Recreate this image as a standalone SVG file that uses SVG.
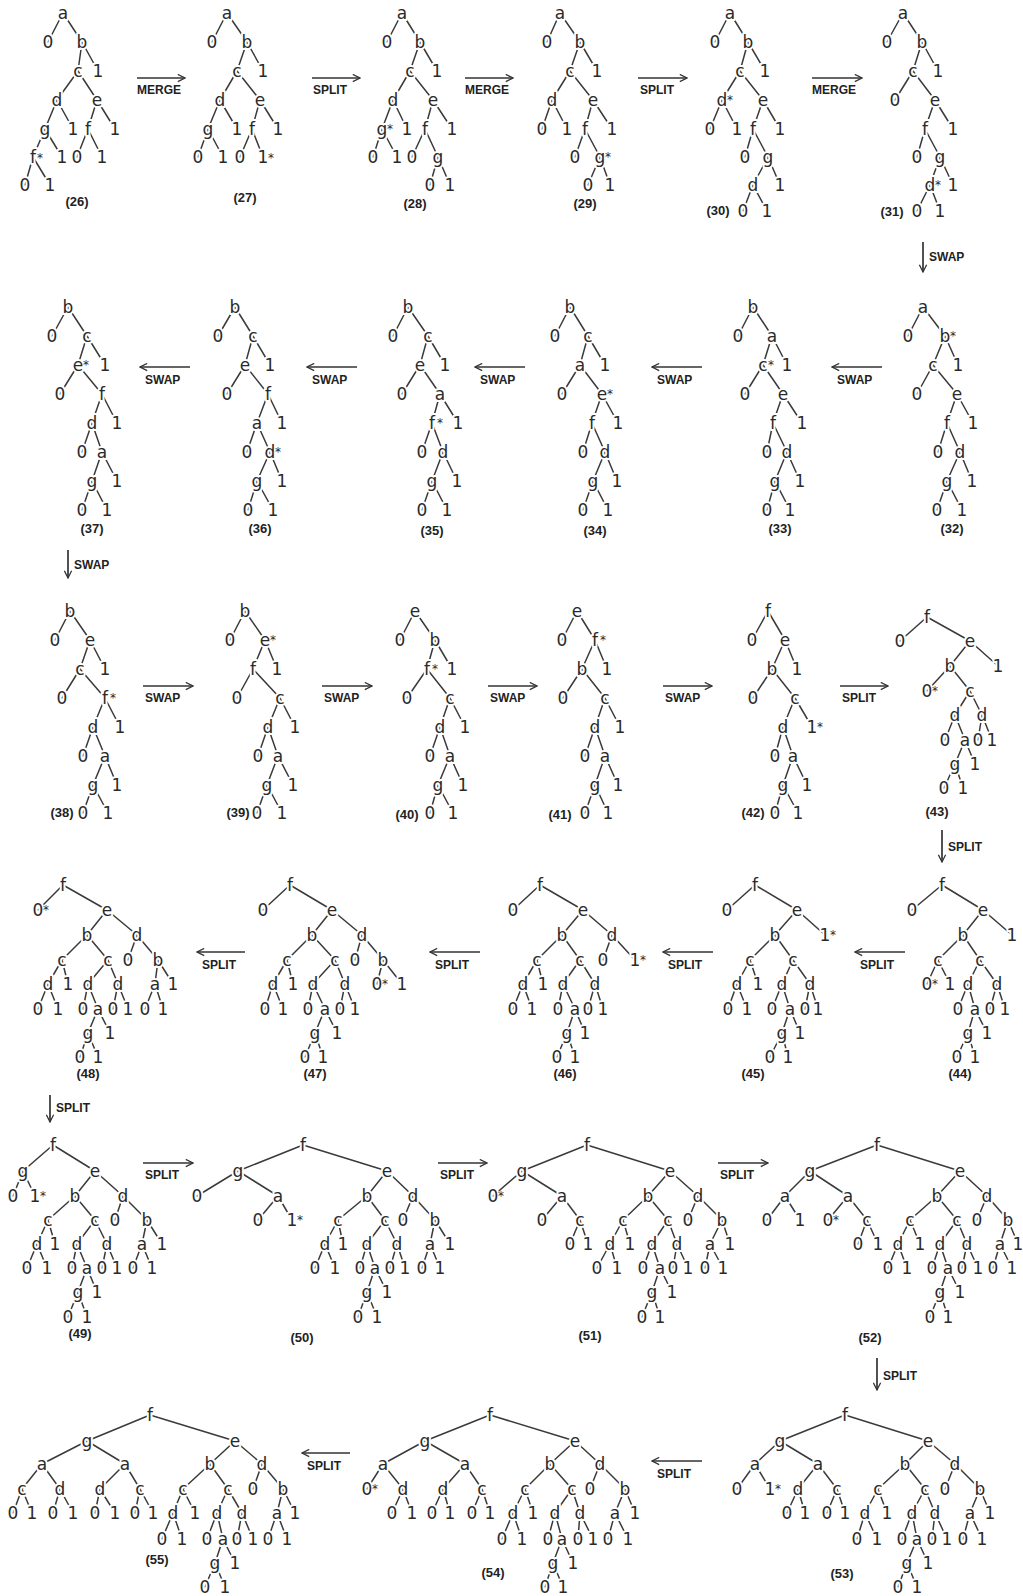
<svg xmlns="http://www.w3.org/2000/svg" width="1023" height="1596" viewBox="0 0 1023 1596">
<style>
.t text{font-family:"DejaVu Sans",Verdana,sans-serif;font-size:17px;fill:#2a2a2a;text-anchor:middle;stroke:#fff;stroke-width:4px;paint-order:stroke;stroke-linejoin:round}
.t text.s{font-size:12px;text-anchor:start;stroke:none}
.t text.n{font-family:"Liberation Sans",Arial,sans-serif;font-weight:bold;font-size:13px;stroke:none;fill:#222}
.e{fill:none;stroke:#3a3a3a;stroke-width:1.5;stroke-linecap:round}
.c line{stroke:#333;stroke-width:1.7;marker-end:url(#ah)}
.c text{font-family:"Liberation Sans",Arial,sans-serif;font-weight:bold;font-size:12px;fill:#222}
</style>
<defs>
<marker id="ah" viewBox="0 0 10 10" refX="9" refY="5" markerWidth="9" markerHeight="9" markerUnits="userSpaceOnUse" orient="auto"><path d="M1 1L9 5L1 9" fill="none" stroke="#333" stroke-width="1.4"/></marker>
</defs>
<rect width="1023" height="1596" fill="#fff"/>

<g id="tree26" class="t">
<path class="e" d="M63 13L48 42M63 13L82 42M82 42L78 71M82 42L98 71M78 71L57 100M78 71L97 100M57 100L45 129M57 100L73 129M97 100L88 129M97 100L115 129M45 129L33 157M45 129L62 157M88 129L77 157M88 129L102 157M33 157L25 185M33 157L50 185"/>
<text x="63" y="19">a</text><text x="48" y="48">0</text><text x="82" y="48">b</text><text x="78" y="77">c</text><text x="98" y="77">1</text><text x="57" y="106">d</text><text x="97" y="106">e</text><text x="45" y="135">g</text><text x="73" y="135">1</text><text x="88" y="135">f</text><text x="115" y="135">1</text><text x="33" y="163">f</text><text class="s" x="37" y="162">*</text><text x="62" y="163">1</text><text x="77" y="163">0</text><text x="102" y="163">1</text><text x="25" y="191">0</text><text x="50" y="191">1</text>
<text class="n" x="77" y="206">(26)</text>
</g>

<g id="tree27" class="t">
<path class="e" d="M227 13L212 42M227 13L247 42M247 42L237 71M247 42L263 71M237 71L220 100M237 71L260 100M220 100L208 129M220 100L237 129M260 100L252 129M260 100L278 129M208 129L198 157M208 129L223 157M252 129L240 157M252 129L263 157"/>
<text x="227" y="19">a</text><text x="212" y="48">0</text><text x="247" y="48">b</text><text x="237" y="77">c</text><text x="263" y="77">1</text><text x="220" y="106">d</text><text x="260" y="106">e</text><text x="208" y="135">g</text><text x="237" y="135">1</text><text x="252" y="135">f</text><text x="278" y="135">1</text><text x="198" y="163">0</text><text x="223" y="163">1</text><text x="240" y="163">0</text><text x="263" y="163">1</text><text class="s" x="268" y="162">*</text>
<text class="n" x="245" y="202">(27)</text>
</g>

<g id="tree28" class="t">
<path class="e" d="M402 13L387 42M402 13L420 42M420 42L410 71M420 42L437 71M410 71L393 100M410 71L433 100M393 100L382 129M393 100L407 129M433 100L425 129M433 100L452 129M382 129L373 157M382 129L397 157M425 129L412 157M425 129L438 157M438 157L430 185M438 157L450 185"/>
<text x="402" y="19">a</text><text x="387" y="48">0</text><text x="420" y="48">b</text><text x="410" y="77">c</text><text x="437" y="77">1</text><text x="393" y="106">d</text><text x="433" y="106">e</text><text x="382" y="135">g</text><text class="s" x="387" y="133">*</text><text x="407" y="135">1</text><text x="425" y="135">f</text><text x="452" y="135">1</text><text x="373" y="163">0</text><text x="397" y="163">1</text><text x="412" y="163">0</text><text x="438" y="163">g</text><text x="430" y="191">0</text><text x="450" y="191">1</text>
<text class="n" x="415" y="208">(28)</text>
</g>

<g id="tree29" class="t">
<path class="e" d="M560 13L547 42M560 13L580 42M580 42L570 71M580 42L597 71M570 71L552 100M570 71L593 100M552 100L542 129M552 100L567 129M593 100L585 129M593 100L612 129M585 129L575 157M585 129L600 157M600 157L588 185M600 157L610 185"/>
<text x="560" y="19">a</text><text x="547" y="48">0</text><text x="580" y="48">b</text><text x="570" y="77">c</text><text x="597" y="77">1</text><text x="552" y="106">d</text><text x="593" y="106">e</text><text x="542" y="135">0</text><text x="567" y="135">1</text><text x="585" y="135">f</text><text x="612" y="135">1</text><text x="575" y="163">0</text><text x="600" y="163">g</text><text class="s" x="605" y="161">*</text><text x="588" y="191">0</text><text x="610" y="191">1</text>
<text class="n" x="585" y="208">(29)</text>
</g>

<g id="tree30" class="t">
<path class="e" d="M730 13L715 42M730 13L748 42M748 42L740 71M748 42L765 71M740 71L722 100M740 71L763 100M722 100L710 129M722 100L737 129M763 100L753 129M763 100L780 129M753 129L745 157M753 129L768 157M768 157L753 185M768 157L780 185M753 185L743 211M753 185L767 211"/>
<text x="730" y="19">a</text><text x="715" y="48">0</text><text x="748" y="48">b</text><text x="740" y="77">c</text><text x="765" y="77">1</text><text x="722" y="106">d</text><text class="s" x="727" y="104">*</text><text x="763" y="106">e</text><text x="710" y="135">0</text><text x="737" y="135">1</text><text x="753" y="135">f</text><text x="780" y="135">1</text><text x="745" y="163">0</text><text x="768" y="163">g</text><text x="753" y="191">d</text><text x="780" y="191">1</text><text x="743" y="217">0</text><text x="767" y="217">1</text>
<text class="n" x="718" y="215">(30)</text>
</g>

<g id="tree31" class="t">
<path class="e" d="M903 13L887 42M903 13L922 42M922 42L913 71M922 42L938 71M913 71L895 100M913 71L935 100M935 100L925 129M935 100L953 129M925 129L917 157M925 129L940 157M940 157L930 185M940 157L953 185M930 185L917 211M930 185L940 211"/>
<text x="903" y="19">a</text><text x="887" y="48">0</text><text x="922" y="48">b</text><text x="913" y="77">c</text><text x="938" y="77">1</text><text x="895" y="106">0</text><text x="935" y="106">e</text><text x="925" y="135">f</text><text x="953" y="135">1</text><text x="917" y="163">0</text><text x="940" y="163">g</text><text x="930" y="191">d</text><text class="s" x="935" y="189">*</text><text x="953" y="191">1</text><text x="917" y="217">0</text><text x="940" y="217">1</text>
<text class="n" x="892" y="216">(31)</text>
</g>

<g id="tree37" class="t" transform="translate(0,-15)">
<path class="e" d="M68 322L52 351M68 322L87 351M87 351L78 380M87 351L105 380M78 380L60 409M78 380L102 409M102 409L92 438M102 409L117 438M92 438L82 467M92 438L102 467M102 467L92 496M102 467L117 496M92 496L82 525M92 496L107 525"/>
<text x="68" y="328">b</text><text x="52" y="357">0</text><text x="87" y="357">c</text><text x="78" y="386">e</text><text class="s" x="83" y="384">*</text><text x="105" y="386">1</text><text x="60" y="415">0</text><text x="102" y="415">f</text><text x="92" y="444">d</text><text x="117" y="444">1</text><text x="82" y="473">0</text><text x="102" y="473">a</text><text x="92" y="502">g</text><text x="117" y="502">1</text><text x="82" y="531">0</text><text x="107" y="531">1</text>
<text class="n" x="92" y="548">(37)</text>
</g>

<g id="tree36" class="t" transform="translate(0,-15)">
<path class="e" d="M235 322L218 351M235 322L253 351M253 351L245 380M253 351L270 380M245 380L227 409M245 380L268 409M268 409L257 438M268 409L282 438M257 438L247 467M257 438L270 467M270 467L257 496M270 467L282 496M257 496L248 525M257 496L273 525"/>
<text x="235" y="328">b</text><text x="218" y="357">0</text><text x="253" y="357">c</text><text x="245" y="386">e</text><text x="270" y="386">1</text><text x="227" y="415">0</text><text x="268" y="415">f</text><text x="257" y="444">a</text><text x="282" y="444">1</text><text x="247" y="473">0</text><text x="270" y="473">d</text><text class="s" x="275" y="471">*</text><text x="257" y="502">g</text><text x="282" y="502">1</text><text x="248" y="531">0</text><text x="273" y="531">1</text>
<text class="n" x="260" y="548">(36)</text>
</g>

<g id="tree35" class="t" transform="translate(0,-15)">
<path class="e" d="M408 322L393 351M408 322L428 351M428 351L420 380M428 351L445 380M420 380L402 409M420 380L440 409M440 409L432 438M440 409L458 438M432 438L422 467M432 438L443 467M443 467L432 496M443 467L457 496M432 496L422 525M432 496L447 525"/>
<text x="408" y="328">b</text><text x="393" y="357">0</text><text x="428" y="357">c</text><text x="420" y="386">e</text><text x="445" y="386">1</text><text x="402" y="415">0</text><text x="440" y="415">a</text><text x="432" y="444">f</text><text class="s" x="437" y="442">*</text><text x="458" y="444">1</text><text x="422" y="473">0</text><text x="443" y="473">d</text><text x="432" y="502">g</text><text x="457" y="502">1</text><text x="422" y="531">0</text><text x="447" y="531">1</text>
<text class="n" x="432" y="550">(35)</text>
</g>

<g id="tree34" class="t" transform="translate(0,-15)">
<path class="e" d="M570 322L555 351M570 322L588 351M588 351L580 380M588 351L605 380M580 380L562 409M580 380L602 409M602 409L592 438M602 409L618 438M592 438L583 467M592 438L605 467M605 467L593 496M605 467L617 496M593 496L583 525M593 496L608 525"/>
<text x="570" y="328">b</text><text x="555" y="357">0</text><text x="588" y="357">c</text><text x="580" y="386">a</text><text x="605" y="386">1</text><text x="562" y="415">0</text><text x="602" y="415">e</text><text class="s" x="607" y="413">*</text><text x="592" y="444">f</text><text x="618" y="444">1</text><text x="583" y="473">0</text><text x="605" y="473">d</text><text x="593" y="502">g</text><text x="617" y="502">1</text><text x="583" y="531">0</text><text x="608" y="531">1</text>
<text class="n" x="595" y="550">(34)</text>
</g>

<g id="tree33" class="t" transform="translate(0,-15)">
<path class="e" d="M753 322L738 351M753 322L772 351M772 351L763 380M772 351L787 380M763 380L745 409M763 380L783 409M783 409L773 438M783 409L802 438M773 438L767 467M773 438L787 467M787 467L775 496M787 467L800 496M775 496L767 525M775 496L790 525"/>
<text x="753" y="328">b</text><text x="738" y="357">0</text><text x="772" y="357">a</text><text x="763" y="386">c</text><text class="s" x="768" y="384">*</text><text x="787" y="386">1</text><text x="745" y="415">0</text><text x="783" y="415">e</text><text x="773" y="444">f</text><text x="802" y="444">1</text><text x="767" y="473">0</text><text x="787" y="473">d</text><text x="775" y="502">g</text><text x="800" y="502">1</text><text x="767" y="531">0</text><text x="790" y="531">1</text>
<text class="n" x="780" y="548">(33)</text>
</g>

<g id="tree32" class="t" transform="translate(0,-15)">
<path class="e" d="M923 322L908 351M923 322L945 351M945 351L933 380M945 351L958 380M933 380L917 409M933 380L957 409M957 409L947 438M957 409L973 438M947 438L938 467M947 438L960 467M960 467L947 496M960 467L972 496M947 496L937 525M947 496L962 525"/>
<text x="923" y="328">a</text><text x="908" y="357">0</text><text x="945" y="357">b</text><text class="s" x="950" y="355">*</text><text x="933" y="386">c</text><text x="958" y="386">1</text><text x="917" y="415">0</text><text x="957" y="415">e</text><text x="947" y="444">f</text><text x="973" y="444">1</text><text x="938" y="473">0</text><text x="960" y="473">d</text><text x="947" y="502">g</text><text x="972" y="502">1</text><text x="937" y="531">0</text><text x="962" y="531">1</text>
<text class="n" x="952" y="548">(32)</text>
</g>

<g id="tree38" class="t" transform="translate(0,-12)">
<path class="e" d="M70 623L55 652M70 623L90 652M90 652L80 681M90 652L105 681M80 681L62 710M80 681L105 710M105 710L93 739M105 710L120 739M93 739L83 768M93 739L105 768M105 768L93 797M105 768L117 797M93 797L83 825M93 797L108 825"/>
<text x="70" y="629">b</text><text x="55" y="658">0</text><text x="90" y="658">e</text><text x="80" y="687">c</text><text x="105" y="687">1</text><text x="62" y="716">0</text><text x="105" y="716">f</text><text class="s" x="110" y="714">*</text><text x="93" y="745">d</text><text x="120" y="745">1</text><text x="83" y="774">0</text><text x="105" y="774">a</text><text x="93" y="803">g</text><text x="117" y="803">1</text><text x="83" y="831">0</text><text x="108" y="831">1</text>
<text class="n" x="62" y="829">(38)</text>
</g>

<g id="tree39" class="t" transform="translate(0,-12)">
<path class="e" d="M245 623L230 652M245 623L265 652M265 652L253 681M265 652L277 681M253 681L237 710M253 681L280 710M280 710L268 739M280 710L295 739M268 739L258 768M268 739L278 768M278 768L267 797M278 768L293 797M267 797L257 825M267 797L282 825"/>
<text x="245" y="629">b</text><text x="230" y="658">0</text><text x="265" y="658">e</text><text class="s" x="270" y="656">*</text><text x="253" y="687">f</text><text x="277" y="687">1</text><text x="237" y="716">0</text><text x="280" y="716">c</text><text x="268" y="745">d</text><text x="295" y="745">1</text><text x="258" y="774">0</text><text x="278" y="774">a</text><text x="267" y="803">g</text><text x="293" y="803">1</text><text x="257" y="831">0</text><text x="282" y="831">1</text>
<text class="n" x="238" y="829">(39)</text>
</g>

<g id="tree40" class="t" transform="translate(0,-12)">
<path class="e" d="M415 623L400 652M415 623L435 652M435 652L427 681M435 652L452 681M427 681L407 710M427 681L450 710M450 710L440 739M450 710L465 739M440 739L430 768M440 739L450 768M450 768L438 797M450 768L463 797M438 797L430 825M438 797L453 825"/>
<text x="415" y="629">e</text><text x="400" y="658">0</text><text x="435" y="658">b</text><text x="427" y="687">f</text><text class="s" x="432" y="685">*</text><text x="452" y="687">1</text><text x="407" y="716">0</text><text x="450" y="716">c</text><text x="440" y="745">d</text><text x="465" y="745">1</text><text x="430" y="774">0</text><text x="450" y="774">a</text><text x="438" y="803">g</text><text x="463" y="803">1</text><text x="430" y="831">0</text><text x="453" y="831">1</text>
<text class="n" x="407" y="831">(40)</text>
</g>

<g id="tree41" class="t" transform="translate(0,-12)">
<path class="e" d="M577 623L562 652M577 623L595 652M595 652L582 681M595 652L607 681M582 681L563 710M582 681L605 710M605 710L595 739M605 710L620 739M595 739L585 768M595 739L605 768M605 768L595 797M605 768L618 797M595 797L585 825M595 797L608 825"/>
<text x="577" y="629">e</text><text x="562" y="658">0</text><text x="595" y="658">f</text><text class="s" x="600" y="656">*</text><text x="582" y="687">b</text><text x="607" y="687">1</text><text x="563" y="716">0</text><text x="605" y="716">c</text><text x="595" y="745">d</text><text x="620" y="745">1</text><text x="585" y="774">0</text><text x="605" y="774">a</text><text x="595" y="803">g</text><text x="618" y="803">1</text><text x="585" y="831">0</text><text x="608" y="831">1</text>
<text class="n" x="560" y="831">(41)</text>
</g>

<g id="tree42" class="t" transform="translate(0,-12)">
<path class="e" d="M768 623L752 652M768 623L785 652M785 652L772 681M785 652L797 681M772 681L753 710M772 681L795 710M795 710L783 739M795 710L812 739M783 739L775 768M783 739L793 768M793 768L783 797M793 768L807 797M783 797L775 825M783 797L798 825"/>
<text x="768" y="629">f</text><text x="752" y="658">0</text><text x="785" y="658">e</text><text x="772" y="687">b</text><text x="797" y="687">1</text><text x="753" y="716">0</text><text x="795" y="716">c</text><text x="783" y="745">d</text><text x="812" y="745">1</text><text class="s" x="817" y="743">*</text><text x="775" y="774">0</text><text x="793" y="774">a</text><text x="783" y="803">g</text><text x="807" y="803">1</text><text x="775" y="831">0</text><text x="798" y="831">1</text>
<text class="n" x="753" y="829">(42)</text>
</g>

<g id="tree43" class="t" transform="translate(0,-8)">
<path class="e" d="M927 625L900 649M927 625L970 649M970 649L950 674M970 649L998 674M950 674L927 699M950 674L970 699M970 699L955 723M970 699L982 723M955 723L945 748M955 723L965 748M982 723L978 748M982 723L992 748M965 748L955 772M965 748L975 772M955 772L944 796M955 772L963 796"/>
<text x="927" y="631">f</text><text x="900" y="655">0</text><text x="970" y="655">e</text><text x="950" y="680">b</text><text x="998" y="680">1</text><text x="927" y="705">0</text><text class="s" x="932" y="703">*</text><text x="970" y="705">c</text><text x="955" y="729">d</text><text x="982" y="729">d</text><text x="945" y="754">0</text><text x="965" y="754">a</text><text x="978" y="754">0</text><text x="992" y="754">1</text><text x="955" y="778">g</text><text x="975" y="778">1</text><text x="944" y="802">0</text><text x="963" y="802">1</text>
<text class="n" x="937" y="824">(43)</text>
</g>

<g id="tree48" class="t">
<path class="e" d="M63 885L38 910M63 885L107 910M107 910L87 935M107 910L137 935M87 935L62 960M87 935L108 960M137 935L128 960M137 935L158 960M62 960L48 984M62 960L68 984M108 960L88 984M108 960L118 984M158 960L155 984M158 960L173 984M48 984L38 1009M48 984L58 1009M88 984L83 1009M88 984L98 1009M118 984L113 1009M118 984L128 1009M155 984L145 1009M155 984L163 1009M98 1009L88 1033M98 1009L110 1033M88 1033L80 1057M88 1033L98 1057"/>
<text x="63" y="891">f</text><text x="38" y="916">0</text><text class="s" x="43" y="914">*</text><text x="107" y="916">e</text><text x="87" y="941">b</text><text x="137" y="941">d</text><text x="62" y="966">c</text><text x="108" y="966">c</text><text x="128" y="966">0</text><text x="158" y="966">b</text><text x="48" y="990">d</text><text x="68" y="990">1</text><text x="88" y="990">d</text><text x="118" y="990">d</text><text x="155" y="990">a</text><text x="173" y="990">1</text><text x="38" y="1015">0</text><text x="58" y="1015">1</text><text x="83" y="1015">0</text><text x="98" y="1015">a</text><text x="113" y="1015">0</text><text x="128" y="1015">1</text><text x="145" y="1015">0</text><text x="163" y="1015">1</text><text x="88" y="1039">g</text><text x="110" y="1039">1</text><text x="80" y="1063">0</text><text x="98" y="1063">1</text>
<text class="n" x="88" y="1078">(48)</text>
</g>

<g id="tree47" class="t">
<path class="e" d="M290 885L263 910M290 885L332 910M332 910L312 935M332 910L362 935M312 935L287 960M312 935L335 960M362 935L355 960M362 935L383 960M287 960L273 984M287 960L293 984M335 960L313 984M335 960L345 984M383 960L377 984M383 960L402 984M273 984L265 1009M273 984L283 1009M313 984L308 1009M313 984L325 1009M345 984L340 1009M345 984L355 1009M325 1009L315 1033M325 1009L337 1033M315 1033L305 1057M315 1033L323 1057"/>
<text x="290" y="891">f</text><text x="263" y="916">0</text><text x="332" y="916">e</text><text x="312" y="941">b</text><text x="362" y="941">d</text><text x="287" y="966">c</text><text x="335" y="966">c</text><text x="355" y="966">0</text><text x="383" y="966">b</text><text x="273" y="990">d</text><text x="293" y="990">1</text><text x="313" y="990">d</text><text x="345" y="990">d</text><text x="377" y="990">0</text><text class="s" x="382" y="988">*</text><text x="402" y="990">1</text><text x="265" y="1015">0</text><text x="283" y="1015">1</text><text x="308" y="1015">0</text><text x="325" y="1015">a</text><text x="340" y="1015">0</text><text x="355" y="1015">1</text><text x="315" y="1039">g</text><text x="337" y="1039">1</text><text x="305" y="1063">0</text><text x="323" y="1063">1</text>
<text class="n" x="315" y="1078">(47)</text>
</g>

<g id="tree46" class="t">
<path class="e" d="M540 885L513 910M540 885L583 910M583 910L562 935M583 910L612 935M562 935L537 960M562 935L580 960M612 935L603 960M612 935L635 960M537 960L523 984M537 960L543 984M580 960L563 984M580 960L595 984M523 984L513 1009M523 984L532 1009M563 984L558 1009M563 984L575 1009M595 984L588 1009M595 984L603 1009M575 1009L567 1033M575 1009L585 1033M567 1033L557 1057M567 1033L575 1057"/>
<text x="540" y="891">f</text><text x="513" y="916">0</text><text x="583" y="916">e</text><text x="562" y="941">b</text><text x="612" y="941">d</text><text x="537" y="966">c</text><text x="580" y="966">c</text><text x="603" y="966">0</text><text x="635" y="966">1</text><text class="s" x="640" y="964">*</text><text x="523" y="990">d</text><text x="543" y="990">1</text><text x="563" y="990">d</text><text x="595" y="990">d</text><text x="513" y="1015">0</text><text x="532" y="1015">1</text><text x="558" y="1015">0</text><text x="575" y="1015">a</text><text x="588" y="1015">0</text><text x="603" y="1015">1</text><text x="567" y="1039">g</text><text x="585" y="1039">1</text><text x="557" y="1063">0</text><text x="575" y="1063">1</text>
<text class="n" x="565" y="1078">(46)</text>
</g>

<g id="tree45" class="t">
<path class="e" d="M755 885L727 910M755 885L797 910M797 910L775 935M797 910L825 935M775 935L750 960M775 935L793 960M750 960L737 984M750 960L758 984M793 960L782 984M793 960L810 984M737 984L728 1009M737 984L747 1009M782 984L772 1009M782 984L790 1009M810 984L805 1009M810 984L818 1009M790 1009L782 1033M790 1009L800 1033M782 1033L770 1057M782 1033L788 1057"/>
<text x="755" y="891">f</text><text x="727" y="916">0</text><text x="797" y="916">e</text><text x="775" y="941">b</text><text x="825" y="941">1</text><text class="s" x="830" y="939">*</text><text x="750" y="966">c</text><text x="793" y="966">c</text><text x="737" y="990">d</text><text x="758" y="990">1</text><text x="782" y="990">d</text><text x="810" y="990">d</text><text x="728" y="1015">0</text><text x="747" y="1015">1</text><text x="772" y="1015">0</text><text x="790" y="1015">a</text><text x="805" y="1015">0</text><text x="818" y="1015">1</text><text x="782" y="1039">g</text><text x="800" y="1039">1</text><text x="770" y="1063">0</text><text x="788" y="1063">1</text>
<text class="n" x="753" y="1078">(45)</text>
</g>

<g id="tree44" class="t">
<path class="e" d="M942 885L912 910M942 885L983 910M983 910L963 935M983 910L1012 935M963 935L938 960M963 935L980 960M938 960L927 984M938 960L950 984M980 960L968 984M980 960L997 984M968 984L958 1009M968 984L975 1009M997 984L990 1009M997 984L1005 1009M975 1009L968 1033M975 1009L987 1033M968 1033L957 1057M968 1033L975 1057"/>
<text x="942" y="891">f</text><text x="912" y="916">0</text><text x="983" y="916">e</text><text x="963" y="941">b</text><text x="1012" y="941">1</text><text x="938" y="966">c</text><text x="980" y="966">c</text><text x="927" y="990">0</text><text class="s" x="932" y="988">*</text><text x="950" y="990">1</text><text x="968" y="990">d</text><text x="997" y="990">d</text><text x="958" y="1015">0</text><text x="975" y="1015">a</text><text x="990" y="1015">0</text><text x="1005" y="1015">1</text><text x="968" y="1039">g</text><text x="987" y="1039">1</text><text x="957" y="1063">0</text><text x="975" y="1063">1</text>
<text class="n" x="960" y="1078">(44)</text>
</g>

<g id="tree49" class="t">
<path class="e" d="M53 1145L23 1171M53 1145L95 1171M23 1171L13 1196M23 1171L35 1196M95 1171L75 1196M95 1171L123 1196M75 1196L48 1220M75 1196L95 1220M123 1196L115 1220M123 1196L147 1220M48 1220L37 1244M48 1220L55 1244M95 1220L77 1244M95 1220L107 1244M147 1220L142 1244M147 1220L162 1244M37 1244L27 1268M37 1244L47 1268M77 1244L72 1268M77 1244L87 1268M107 1244L102 1268M107 1244L117 1268M142 1244L133 1268M142 1244L152 1268M87 1268L78 1292M87 1268L97 1292M78 1292L68 1317M78 1292L87 1317"/>
<text x="53" y="1151">f</text><text x="23" y="1177">g</text><text x="95" y="1177">e</text><text x="13" y="1202">0</text><text x="35" y="1202">1</text><text class="s" x="40" y="1200">*</text><text x="75" y="1202">b</text><text x="123" y="1202">d</text><text x="48" y="1226">c</text><text x="95" y="1226">c</text><text x="115" y="1226">0</text><text x="147" y="1226">b</text><text x="37" y="1250">d</text><text x="55" y="1250">1</text><text x="77" y="1250">d</text><text x="107" y="1250">d</text><text x="142" y="1250">a</text><text x="162" y="1250">1</text><text x="27" y="1274">0</text><text x="47" y="1274">1</text><text x="72" y="1274">0</text><text x="87" y="1274">a</text><text x="102" y="1274">0</text><text x="117" y="1274">1</text><text x="133" y="1274">0</text><text x="152" y="1274">1</text><text x="78" y="1298">g</text><text x="97" y="1298">1</text><text x="68" y="1323">0</text><text x="87" y="1323">1</text>
<text class="n" x="80" y="1338">(49)</text>
</g>

<g id="tree50" class="t">
<path class="e" d="M303 1145L238 1171M303 1145L387 1171M238 1171L197 1196M238 1171L278 1196M278 1196L258 1220M278 1196L292 1220M387 1171L367 1196M387 1171L413 1196M367 1196L338 1220M367 1196L385 1220M413 1196L403 1220M413 1196L435 1220M338 1220L325 1244M338 1220L343 1244M385 1220L367 1244M385 1220L397 1244M435 1220L430 1244M435 1220L450 1244M325 1244L315 1268M325 1244L335 1268M367 1244L360 1268M367 1244L375 1268M397 1244L390 1268M397 1244L405 1268M430 1244L422 1268M430 1244L440 1268M375 1268L367 1292M375 1268L387 1292M367 1292L358 1317M367 1292L377 1317"/>
<text x="303" y="1151">f</text><text x="238" y="1177">g</text><text x="387" y="1177">e</text><text x="197" y="1202">0</text><text x="278" y="1202">a</text><text x="367" y="1202">b</text><text x="413" y="1202">d</text><text x="258" y="1226">0</text><text x="292" y="1226">1</text><text class="s" x="297" y="1224">*</text><text x="338" y="1226">c</text><text x="385" y="1226">c</text><text x="403" y="1226">0</text><text x="435" y="1226">b</text><text x="325" y="1250">d</text><text x="343" y="1250">1</text><text x="367" y="1250">d</text><text x="397" y="1250">d</text><text x="430" y="1250">a</text><text x="450" y="1250">1</text><text x="315" y="1274">0</text><text x="335" y="1274">1</text><text x="360" y="1274">0</text><text x="375" y="1274">a</text><text x="390" y="1274">0</text><text x="405" y="1274">1</text><text x="422" y="1274">0</text><text x="440" y="1274">1</text><text x="367" y="1298">g</text><text x="387" y="1298">1</text><text x="358" y="1323">0</text><text x="377" y="1323">1</text>
<text class="n" x="302" y="1342">(50)</text>
</g>

<g id="tree51" class="t">
<path class="e" d="M587 1145L522 1171M587 1145L670 1171M522 1171L493 1196M522 1171L562 1196M562 1196L542 1220M562 1196L580 1220M580 1220L570 1244M580 1220L588 1244M670 1171L648 1196M670 1171L698 1196M648 1196L623 1220M648 1196L668 1220M698 1196L688 1220M698 1196L722 1220M623 1220L610 1244M623 1220L630 1244M668 1220L652 1244M668 1220L677 1244M722 1220L710 1244M722 1220L730 1244M610 1244L597 1268M610 1244L617 1268M652 1244L643 1268M652 1244L660 1268M677 1244L673 1268M677 1244L688 1268M710 1244L705 1268M710 1244L723 1268M660 1268L652 1292M660 1268L672 1292M652 1292L642 1317M652 1292L660 1317"/>
<text x="587" y="1151">f</text><text x="522" y="1177">g</text><text x="670" y="1177">e</text><text x="493" y="1202">0</text><text class="s" x="498" y="1200">*</text><text x="562" y="1202">a</text><text x="648" y="1202">b</text><text x="698" y="1202">d</text><text x="542" y="1226">0</text><text x="580" y="1226">c</text><text x="623" y="1226">c</text><text x="668" y="1226">c</text><text x="688" y="1226">0</text><text x="722" y="1226">b</text><text x="570" y="1250">0</text><text x="588" y="1250">1</text><text x="610" y="1250">d</text><text x="630" y="1250">1</text><text x="652" y="1250">d</text><text x="677" y="1250">d</text><text x="710" y="1250">a</text><text x="730" y="1250">1</text><text x="597" y="1274">0</text><text x="617" y="1274">1</text><text x="643" y="1274">0</text><text x="660" y="1274">a</text><text x="673" y="1274">0</text><text x="688" y="1274">1</text><text x="705" y="1274">0</text><text x="723" y="1274">1</text><text x="652" y="1298">g</text><text x="672" y="1298">1</text><text x="642" y="1323">0</text><text x="660" y="1323">1</text>
<text class="n" x="590" y="1340">(51)</text>
</g>

<g id="tree52" class="t">
<path class="e" d="M877 1145L810 1171M877 1145L960 1171M810 1171L785 1196M810 1171L848 1196M785 1196L767 1220M785 1196L800 1220M848 1196L828 1220M848 1196L867 1220M867 1220L858 1244M867 1220L878 1244M960 1171L937 1196M960 1171L987 1196M937 1196L910 1220M937 1196L957 1220M987 1196L977 1220M987 1196L1008 1220M910 1220L898 1244M910 1220L920 1244M957 1220L940 1244M957 1220L967 1244M1008 1220L1000 1244M1008 1220L1018 1244M898 1244L888 1268M898 1244L907 1268M940 1244L932 1268M940 1244L948 1268M967 1244L962 1268M967 1244L978 1268M1000 1244L993 1268M1000 1244L1012 1268M948 1268L940 1292M948 1268L960 1292M940 1292L930 1317M940 1292L948 1317"/>
<text x="877" y="1151">f</text><text x="810" y="1177">g</text><text x="960" y="1177">e</text><text x="785" y="1202">a</text><text x="848" y="1202">a</text><text x="937" y="1202">b</text><text x="987" y="1202">d</text><text x="767" y="1226">0</text><text x="800" y="1226">1</text><text x="828" y="1226">0</text><text class="s" x="833" y="1224">*</text><text x="867" y="1226">c</text><text x="910" y="1226">c</text><text x="957" y="1226">c</text><text x="977" y="1226">0</text><text x="1008" y="1226">b</text><text x="858" y="1250">0</text><text x="878" y="1250">1</text><text x="898" y="1250">d</text><text x="920" y="1250">1</text><text x="940" y="1250">d</text><text x="967" y="1250">d</text><text x="1000" y="1250">a</text><text x="1018" y="1250">1</text><text x="888" y="1274">0</text><text x="907" y="1274">1</text><text x="932" y="1274">0</text><text x="948" y="1274">a</text><text x="962" y="1274">0</text><text x="978" y="1274">1</text><text x="993" y="1274">0</text><text x="1012" y="1274">1</text><text x="940" y="1298">g</text><text x="960" y="1298">1</text><text x="930" y="1323">0</text><text x="948" y="1323">1</text>
<text class="n" x="870" y="1342">(52)</text>
</g>

<g id="tree55" class="t">
<path class="e" d="M150 1415L87 1441M150 1415L235 1441M87 1441L42 1464M87 1441L125 1464M42 1464L22 1489M42 1464L60 1489M125 1464L100 1489M125 1464L140 1489M22 1489L13 1513M22 1489L32 1513M60 1489L53 1513M60 1489L73 1513M100 1489L95 1513M100 1489L115 1513M140 1489L135 1513M140 1489L153 1513M235 1441L210 1464M235 1441L262 1464M210 1464L183 1489M210 1464L228 1489M262 1464L253 1489M262 1464L283 1489M183 1489L173 1513M183 1489L195 1513M228 1489L217 1513M228 1489L242 1513M283 1489L277 1513M283 1489L295 1513M173 1513L162 1539M173 1513L182 1539M217 1513L207 1539M217 1513L223 1539M242 1513L237 1539M242 1513L253 1539M277 1513L268 1539M277 1513L287 1539M223 1539L215 1563M223 1539L235 1563M215 1563L205 1587M215 1563L225 1587"/>
<text x="150" y="1421">f</text><text x="87" y="1447">g</text><text x="235" y="1447">e</text><text x="42" y="1470">a</text><text x="125" y="1470">a</text><text x="210" y="1470">b</text><text x="262" y="1470">d</text><text x="22" y="1495">c</text><text x="60" y="1495">d</text><text x="100" y="1495">d</text><text x="140" y="1495">c</text><text x="183" y="1495">c</text><text x="228" y="1495">c</text><text x="253" y="1495">0</text><text x="283" y="1495">b</text><text x="13" y="1519">0</text><text x="32" y="1519">1</text><text x="53" y="1519">0</text><text x="73" y="1519">1</text><text x="95" y="1519">0</text><text x="115" y="1519">1</text><text x="135" y="1519">0</text><text x="153" y="1519">1</text><text x="173" y="1519">d</text><text x="195" y="1519">1</text><text x="217" y="1519">d</text><text x="242" y="1519">d</text><text x="277" y="1519">a</text><text x="295" y="1519">1</text><text x="162" y="1545">0</text><text x="182" y="1545">1</text><text x="207" y="1545">0</text><text x="223" y="1545">a</text><text x="237" y="1545">0</text><text x="253" y="1545">1</text><text x="268" y="1545">0</text><text x="287" y="1545">1</text><text x="215" y="1569">g</text><text x="235" y="1569">1</text><text x="205" y="1593">0</text><text x="225" y="1593">1</text>
<text class="n" x="157" y="1564">(55)</text>
</g>

<g id="tree54" class="t">
<path class="e" d="M490 1415L425 1441M490 1415L575 1441M425 1441L383 1464M425 1441L465 1464M383 1464L367 1489M383 1464L403 1489M403 1489L392 1513M403 1489L412 1513M465 1464L443 1489M465 1464L482 1489M443 1489L432 1513M443 1489L450 1513M482 1489L472 1513M482 1489L490 1513M575 1441L550 1464M575 1441L600 1464M550 1464L525 1489M550 1464L572 1489M600 1464L590 1489M600 1464L625 1489M525 1489L513 1513M525 1489L533 1513M572 1489L555 1513M572 1489L580 1513M625 1489L615 1513M625 1489L635 1513M513 1513L502 1539M513 1513L522 1539M555 1513L548 1539M555 1513L562 1539M580 1513L578 1539M580 1513L593 1539M615 1513L608 1539M615 1513L628 1539M562 1539L553 1563M562 1539L573 1563M553 1563L545 1587M553 1563L563 1587"/>
<text x="490" y="1421">f</text><text x="425" y="1447">g</text><text x="575" y="1447">e</text><text x="383" y="1470">a</text><text x="465" y="1470">a</text><text x="550" y="1470">b</text><text x="600" y="1470">d</text><text x="367" y="1495">0</text><text class="s" x="372" y="1493">*</text><text x="403" y="1495">d</text><text x="443" y="1495">d</text><text x="482" y="1495">c</text><text x="525" y="1495">c</text><text x="572" y="1495">c</text><text x="590" y="1495">0</text><text x="625" y="1495">b</text><text x="392" y="1519">0</text><text x="412" y="1519">1</text><text x="432" y="1519">0</text><text x="450" y="1519">1</text><text x="472" y="1519">0</text><text x="490" y="1519">1</text><text x="513" y="1519">d</text><text x="533" y="1519">1</text><text x="555" y="1519">d</text><text x="580" y="1519">d</text><text x="615" y="1519">a</text><text x="635" y="1519">1</text><text x="502" y="1545">0</text><text x="522" y="1545">1</text><text x="548" y="1545">0</text><text x="562" y="1545">a</text><text x="578" y="1545">0</text><text x="593" y="1545">1</text><text x="608" y="1545">0</text><text x="628" y="1545">1</text><text x="553" y="1569">g</text><text x="573" y="1569">1</text><text x="545" y="1593">0</text><text x="563" y="1593">1</text>
<text class="n" x="493" y="1577">(54)</text>
</g>

<g id="tree53" class="t">
<path class="e" d="M845 1415L780 1441M845 1415L928 1441M780 1441L755 1464M780 1441L818 1464M755 1464L737 1489M755 1464L770 1489M818 1464L798 1489M818 1464L837 1489M798 1489L787 1513M798 1489L805 1513M837 1489L827 1513M837 1489L845 1513M928 1441L905 1464M928 1441L955 1464M905 1464L878 1489M905 1464L925 1489M955 1464L945 1489M955 1464L980 1489M878 1489L865 1513M878 1489L887 1513M925 1489L912 1513M925 1489L935 1513M980 1489L970 1513M980 1489L990 1513M865 1513L857 1539M865 1513L877 1539M912 1513L902 1539M912 1513L917 1539M935 1513L932 1539M935 1513L947 1539M970 1513L963 1539M970 1513L982 1539M917 1539L907 1563M917 1539L928 1563M907 1563L898 1587M907 1563L917 1587"/>
<text x="845" y="1421">f</text><text x="780" y="1447">g</text><text x="928" y="1447">e</text><text x="755" y="1470">a</text><text x="818" y="1470">a</text><text x="905" y="1470">b</text><text x="955" y="1470">d</text><text x="737" y="1495">0</text><text x="770" y="1495">1</text><text class="s" x="775" y="1493">*</text><text x="798" y="1495">d</text><text x="837" y="1495">c</text><text x="878" y="1495">c</text><text x="925" y="1495">c</text><text x="945" y="1495">0</text><text x="980" y="1495">b</text><text x="787" y="1519">0</text><text x="805" y="1519">1</text><text x="827" y="1519">0</text><text x="845" y="1519">1</text><text x="865" y="1519">d</text><text x="887" y="1519">1</text><text x="912" y="1519">d</text><text x="935" y="1519">d</text><text x="970" y="1519">a</text><text x="990" y="1519">1</text><text x="857" y="1545">0</text><text x="877" y="1545">1</text><text x="902" y="1545">0</text><text x="917" y="1545">a</text><text x="932" y="1545">0</text><text x="947" y="1545">1</text><text x="963" y="1545">0</text><text x="982" y="1545">1</text><text x="907" y="1569">g</text><text x="928" y="1569">1</text><text x="898" y="1593">0</text><text x="917" y="1593">1</text>
<text class="n" x="842" y="1578">(53)</text>
</g>

<g id="connectors" class="c">
<line x1="137" y1="78" x2="185" y2="78"/><text x="137" y="94">MERGE</text>
<line x1="312" y1="78" x2="360" y2="78"/><text x="313" y="94">SPLIT</text>
<line x1="465" y1="78" x2="513" y2="78"/><text x="465" y="94">MERGE</text>
<line x1="638" y1="78" x2="687" y2="78"/><text x="640" y="94">SPLIT</text>
<line x1="812" y1="78" x2="862" y2="78"/><text x="812" y="94">MERGE</text>
<line x1="923" y1="242" x2="923" y2="272"/><text x="929" y="261">SWAP</text>
<line x1="882" y1="367" x2="832" y2="367"/><text x="837" y="384">SWAP</text>
<line x1="702" y1="367" x2="652" y2="367"/><text x="657" y="384">SWAP</text>
<line x1="525" y1="367" x2="475" y2="367"/><text x="480" y="384">SWAP</text>
<line x1="357" y1="367" x2="307" y2="367"/><text x="312" y="384">SWAP</text>
<line x1="190" y1="367" x2="140" y2="367"/><text x="145" y="384">SWAP</text>
<line x1="68" y1="550" x2="68" y2="578"/><text x="74" y="569">SWAP</text>
<line x1="143" y1="686" x2="193" y2="686"/><text x="145" y="702">SWAP</text>
<line x1="322" y1="686" x2="372" y2="686"/><text x="324" y="702">SWAP</text>
<line x1="488" y1="686" x2="537" y2="686"/><text x="490" y="702">SWAP</text>
<line x1="663" y1="686" x2="712" y2="686"/><text x="665" y="702">SWAP</text>
<line x1="840" y1="686" x2="888" y2="686"/><text x="842" y="702">SPLIT</text>
<line x1="942" y1="830" x2="942" y2="862"/><text x="948" y="851">SPLIT</text>
<line x1="905" y1="952" x2="855" y2="952"/><text x="860" y="969">SPLIT</text>
<line x1="713" y1="952" x2="663" y2="952"/><text x="668" y="969">SPLIT</text>
<line x1="480" y1="952" x2="430" y2="952"/><text x="435" y="969">SPLIT</text>
<line x1="245" y1="952" x2="197" y2="952"/><text x="202" y="969">SPLIT</text>
<line x1="50" y1="1095" x2="50" y2="1122"/><text x="56" y="1112">SPLIT</text>
<line x1="143" y1="1163" x2="193" y2="1163"/><text x="145" y="1179">SPLIT</text>
<line x1="438" y1="1163" x2="487" y2="1163"/><text x="440" y="1179">SPLIT</text>
<line x1="718" y1="1163" x2="768" y2="1163"/><text x="720" y="1179">SPLIT</text>
<line x1="877" y1="1358" x2="877" y2="1390"/><text x="883" y="1380">SPLIT</text>
<line x1="702" y1="1461" x2="652" y2="1461"/><text x="657" y="1478">SPLIT</text>
<line x1="350" y1="1453" x2="302" y2="1453"/><text x="307" y="1470">SPLIT</text>
</g>
</svg>
